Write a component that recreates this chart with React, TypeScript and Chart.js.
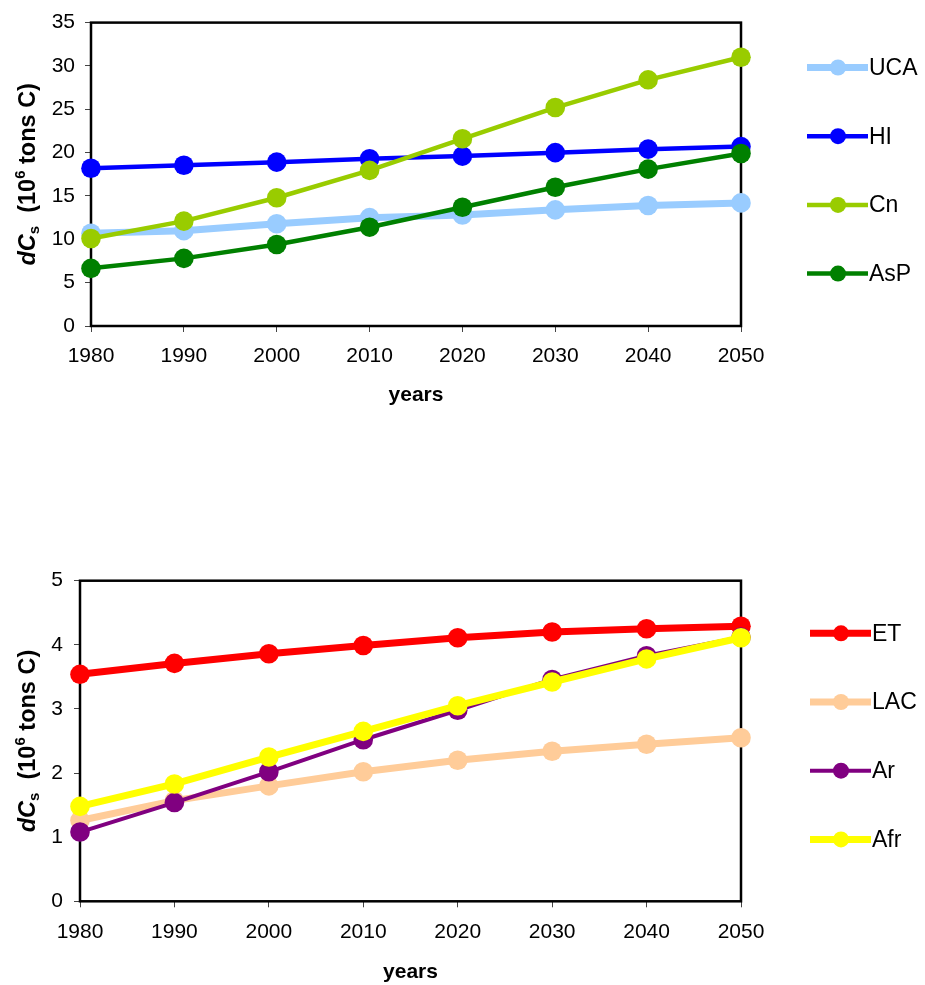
import React, { useEffect, useRef } from "react";
import { Chart, registerables } from "chart.js";

Chart.register(...registerables);

const FONT = "Arial, 'Liberation Sans', Helvetica, sans-serif";

// ---------- data ----------
const years = ["1980", "1990", "2000", "2010", "2020", "2030", "2040", "2050"];

const seriesNamesTop = ["UCA", "HI", "Cn", "AsP"];
const ucaValues = [10.7, 11.0, 11.8, 12.5, 12.8, 13.4, 13.9, 14.2];
const hiValues = [18.2, 18.55, 18.9, 19.3, 19.6, 20.0, 20.4, 20.7];
const cnValues = [10.1, 12.1, 14.8, 17.95, 21.6, 25.2, 28.4, 31.0];
const aspValues = [6.65, 7.8, 9.4, 11.4, 13.7, 16.0, 18.1, 19.9];

const seriesNamesBottom = ["ET", "LAC", "Ar", "Afr"];
const etValues = [3.54, 3.71, 3.86, 3.99, 4.11, 4.2, 4.25, 4.29];
const lacValues = [1.26, 1.57, 1.8, 2.02, 2.2, 2.34, 2.45, 2.55];
const arValues = [1.08, 1.54, 2.02, 2.52, 2.98, 3.46, 3.83, 4.12];
const afrValues = [1.48, 1.83, 2.25, 2.65, 3.05, 3.42, 3.78, 4.11];

const topYTicks = { min: 0, max: 35, step: 5 };
const bottomYTicks = { min: 0, max: 5, step: 1 };

const xTitle = "years";

// ---------- plugin: frame, titles, legend ----------
const decorPlugin = {
  id: "decor",
  beforeDatasetsDraw(chart: any, _args: any, o: any) {
    const { ctx, chartArea: a } = chart;
    ctx.save();
    ctx.strokeStyle = "#000";
    ctx.lineWidth = 2.5;
    ctx.strokeRect(a.left, a.top, a.right - a.left, a.bottom - a.top);
    ctx.restore();
  },
  afterDraw(chart: any, _args: any, o: any) {
    const { ctx, chartArea: a } = chart;
    ctx.save();
    ctx.fillStyle = "#000";
    // x title
    ctx.font = `bold 21px ${FONT}`;
    ctx.textAlign = "center";
    ctx.textBaseline = "middle";
    ctx.fillText(o.xTitle, (a.left + a.right) / 2, o.xTitleY);

    // y title with rich text
    const big = 23.5;
    const small = 15;
    const segs = [
      { t: "d", f: `italic bold ${big}px ${FONT}`, dy: 0 },
      { t: "C", f: `italic bold ${big}px ${FONT}`, dy: 0 },
      { t: "s", f: `bold ${small}px ${FONT}`, dy: 6 },
      { t: "  (10", f: `bold ${big}px ${FONT}`, dy: 0 },
      { t: "6", f: `bold ${small}px ${FONT}`, dy: -8 },
      { t: " tons C)", f: `bold ${big}px ${FONT}`, dy: 0 },
    ];
    let total = 0;
    const widths = segs.map((s) => {
      ctx.font = s.f;
      const w = ctx.measureText(s.t).width;
      total += w;
      return w;
    });
    const cy = (a.top + a.bottom) / 2;
    ctx.translate(o.yTitleX, cy);
    ctx.rotate(-Math.PI / 2);
    ctx.textAlign = "left";
    ctx.textBaseline = "middle";
    let x = -total / 2;
    segs.forEach((s, i) => {
      ctx.font = s.f;
      ctx.fillText(s.t, x, s.dy);
      x += widths[i];
    });
    ctx.setTransform(1, 0, 0, 1, 0, 0);

    // legend
    chart.data.datasets.forEach((ds: any, i: number) => {
      const y = o.legendY0 + i * o.legendStep;
      const x0 = o.legendX;
      ctx.strokeStyle = ds.borderColor;
      ctx.lineWidth = ds.borderWidth;
      ctx.beginPath();
      ctx.moveTo(x0, y);
      ctx.lineTo(x0 + 61, y);
      ctx.stroke();
      ctx.fillStyle = ds.pointBackgroundColor;
      ctx.beginPath();
      ctx.arc(x0 + 31, y, 8, 0, Math.PI * 2);
      ctx.fill();
      ctx.fillStyle = "#000";
      ctx.font = `23px ${FONT}`;
      ctx.textAlign = "left";
      ctx.textBaseline = "middle";
      ctx.fillText(ds.label, x0 + 62, y + 1);
    });
    ctx.restore();
  },
};

type Series = { label: string; data: number[]; color: string; width: number };

type Layout = {
  width: number;
  height: number;
  left: number;
  right: number;
  top: number;
  bottom: number;
  yPad: number;
  xPad: number;
  xTitleY: number;
  yTitleX: number;
  legendX: number;
  legendY0: number;
};

function buildConfig(series: Series[], yt: { min: number; max: number; step: number }, L: Layout): any {
  const n = series.length;
  return {
    type: "line",
    data: {
      labels: years,
      datasets: series.map((s, i) => ({
        label: s.label,
        data: s.data,
        borderColor: s.color,
        backgroundColor: s.color,
        pointBackgroundColor: s.color,
        pointBorderColor: s.color,
        pointBorderWidth: 0,
        pointRadius: 9.8,
        borderWidth: s.width,
        tension: 0,
        fill: false,
        clip: false,
        order: n - i,
      })),
    },
    options: {
      animation: false,
      responsive: false,
      events: [],
      layout: {
        padding: { top: L.top, right: L.width - L.right, left: 0, bottom: 0 },
      },
      plugins: {
        legend: { display: false },
        tooltip: { enabled: false },
        decor: {
          xTitle,
          xTitleY: L.xTitleY,
          yTitleX: L.yTitleX,
          legendX: L.legendX,
          legendY0: L.legendY0,
          legendStep: 68.7,
        },
      },
      scales: {
        x: {
          type: "category",
          offset: false,
          border: { display: false },
          grid: { drawOnChartArea: false, drawTicks: true, tickLength: 6, color: "#444", lineWidth: 1 },
          ticks: {
            color: "#000",
            font: { family: FONT, size: 21 },
            padding: L.xPad,
            maxRotation: 0,
            autoSkip: false,
          },
          afterFit: (scale: any) => {
            scale.height = L.height - L.bottom;
          },
        },
        y: {
          type: "linear",
          min: yt.min,
          max: yt.max,
          border: { display: false },
          grid: { drawOnChartArea: false, drawTicks: true, tickLength: 6, color: "#444", lineWidth: 1 },
          ticks: {
            stepSize: yt.step,
            color: "#000",
            font: { family: FONT, size: 21 },
            padding: L.yPad,
          },
          afterFit: (scale: any) => {
            scale.width = L.left;
          },
        },
      },
    },
    plugins: [decorPlugin],
  };
}

const topSeries: Series[] = [
  { label: seriesNamesTop[0], data: ucaValues, color: "#99CCFF", width: 7 },
  { label: seriesNamesTop[1], data: hiValues, color: "#0000FF", width: 4.5 },
  { label: seriesNamesTop[2], data: cnValues, color: "#99CC00", width: 4.5 },
  { label: seriesNamesTop[3], data: aspValues, color: "#008000", width: 4.5 },
];

const bottomSeries: Series[] = [
  { label: seriesNamesBottom[0], data: etValues, color: "#FF0000", width: 7 },
  { label: seriesNamesBottom[1], data: lacValues, color: "#FFCC99", width: 7 },
  { label: seriesNamesBottom[2], data: arValues, color: "#800080", width: 4 },
  { label: seriesNamesBottom[3], data: afrValues, color: "#FFFF00", width: 7 },
];

const topLayout: Layout = {
  width: 925,
  height: 420,
  left: 91,
  right: 741,
  top: 18.5,
  bottom: 326,
  yPad: 10,
  xPad: 12,
  xTitleY: 395,
  yTitleX: 29,
  legendX: 807,
  legendY0: 67.5,
};

const bottomLayout: Layout = {
  width: 925,
  height: 505,
  left: 80,
  right: 741,
  top: 100.7,
  bottom: 421.3,
  yPad: 11,
  xPad: 12,
  xTitleY: 492,
  yTitleX: 29,
  legendX: 810,
  legendY0: 153.3,
};

function LineChart({ series, yt, layout, top }: { series: Series[]; yt: any; layout: Layout; top: number }) {
  const ref = useRef<HTMLCanvasElement>(null);
  useEffect(() => {
    if (!ref.current) return;
    const chart = new Chart(ref.current, buildConfig(series, yt, layout));
    return () => chart.destroy();
  }, []);
  return (
    <canvas
      ref={ref}
      width={layout.width}
      height={layout.height}
      style={{ position: "absolute", left: 0, top, width: layout.width, height: layout.height }}
    />
  );
}

export default function App() {
  return (
    <div style={{ position: "absolute", left: 0, top: 0, width: 925, height: 985, background: "#fff" }}>
      <LineChart series={topSeries} yt={topYTicks} layout={topLayout} top={0} />
      <LineChart series={bottomSeries} yt={bottomYTicks} layout={bottomLayout} top={480} />
    </div>
  );
}
